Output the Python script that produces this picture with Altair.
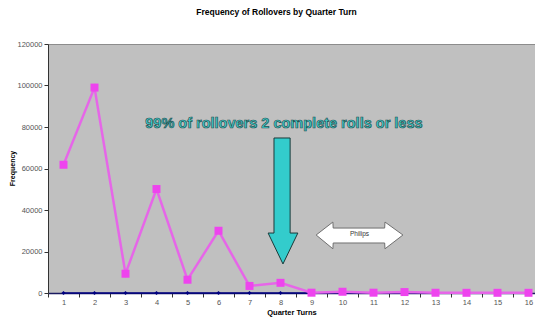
import altair as alt
import pandas as pd

# ---- data ----
turns = list(range(1, 17))
rollovers = [61800, 99000, 9300, 50100, 6400, 30000, 3400, 4900, 150, 600, 150, 450, 120, 100, 100, 100]
baseline = [0] * 16

tick_pos = [i + 0.5 for i in range(16)]  # boundaries 0.5 .. 15.5
y_ticks = [0, 20000, 40000, 60000, 80000, 100000, 120000]

note_text = ["99% of rollovers 2 complete rolls or less"]
note_x = [8.11]
note_y = [81400]

# down arrow outline (horizontal area: y, x, x2)
arrow_y = [14000, 28899, 28900, 74700]
arrow_x = [8.08, 7.60, 7.79, 7.79]
arrow_x2 = [8.08, 8.56, 8.31, 8.31]

# double arrow "Philips" (vertical area: x, y, y2)
dbl_x = [9.15, 9.69, 9.70, 11.36, 11.37, 11.95]
dbl_y = [27950, 34200, 31300, 31300, 34200, 27950]
dbl_y2 = [27950, 21300, 24100, 24100, 21300, 27950]
dbl_label = ["Philips"]
dbl_lx = [10.55]
dbl_ly = [28200]

FONT = "Liberation Sans"
XDOM = [0.5, 0.5 + 487 / 31]

df = pd.DataFrame({"turn": turns, "freq": rollovers, "base": baseline})

xscale = alt.Scale(domain=XDOM, nice=False, zero=False)
yscale = alt.Scale(domain=[0, 120000], nice=False)

x_axis = alt.Axis(
    values=tick_pos, labelExpr="format(datum.value + 0.5, 'd')", labelOffset=15.5,
    labelFlush=False, labelOverlap=False, labelBound=False, labelSeparation=0,
    tickSize=4, tickColor="#333333", domainColor="#1a1a60", domainWidth=1.5,
    labelFontSize=7.5, labelColor="#555555", labelFont=FONT, labelPadding=1,
    title="Quarter Turns", titleFontSize=7.5, titleFont=FONT, titleFontWeight="bold",
    titleColor="#000000", titlePadding=3, grid=False,
)
y_axis = alt.Axis(
    values=y_ticks, format="d", tickSize=4, tickColor="#333333",
    domainColor="#333333", labelFontSize=7.5, labelColor="#555555", labelFont=FONT,
    labelPadding=2, title="Frequency", titleFontSize=7, titleFont=FONT,
    titleFontWeight="bold", titleColor="#000000", titleX=-36, titleY=124,
    titleAngle=-90, titleAlign="center", titleBaseline="middle", grid=False,
)

X = alt.X("turn:Q", scale=xscale, axis=x_axis)

base_line = alt.Chart(df).mark_line(color="#000080", strokeWidth=1.5).encode(
    x=X, y=alt.Y("base:Q", scale=yscale, axis=y_axis),
)
base_pts = alt.Chart(df).mark_point(shape="diamond", filled=True, color="#000080", size=18, opacity=1).encode(
    x=X, y=alt.Y("base:Q", scale=yscale, axis=y_axis)
)
pink_line = alt.Chart(df).mark_line(color="#E666E8", strokeWidth=2.5).encode(
    x=X, y=alt.Y("freq:Q", scale=yscale, axis=y_axis)
)
pink_pts = alt.Chart(df).mark_point(shape="square", filled=True, color="#EE44EE", size=64, opacity=1).encode(
    x=X, y=alt.Y("freq:Q", scale=yscale, axis=y_axis)
)

arrow = alt.Chart(pd.DataFrame({"y": arrow_y, "x": arrow_x, "x2": arrow_x2})).mark_area(
    orient="horizontal", color="#33CCCC", fill="#33CCCC", stroke="#1a3a3a", strokeWidth=1, opacity=1
).encode(
    y=alt.Y("y:Q", scale=yscale, axis=y_axis), x=alt.X("x:Q", scale=xscale, axis=x_axis), x2="x2:Q"
)

dbl = alt.Chart(pd.DataFrame({"x": dbl_x, "y": dbl_y, "y2": dbl_y2})).mark_area(
    orient="vertical", fill="#FFFFFF", stroke="#707070", strokeWidth=1, opacity=1
).encode(
    x=alt.X("x:Q", scale=xscale, axis=x_axis), y=alt.Y("y:Q", scale=yscale, axis=y_axis), y2="y2:Q"
)

dbl_text = alt.Chart(pd.DataFrame({"x": dbl_lx, "y": dbl_ly, "t": dbl_label})).mark_text(
    fontSize=6.5, font=FONT, color="#333333"
).encode(x=alt.X("x:Q", scale=xscale, axis=x_axis), y=alt.Y("y:Q", scale=yscale, axis=y_axis), text="t:N")

note = alt.Chart(pd.DataFrame({"x": note_x, "y": note_y, "t": note_text})).mark_text(
    fontSize=14.5, font=FONT, fontWeight="bold", fill="#3CCFCF", stroke="#275050", strokeWidth=0.7
).encode(x=alt.X("x:Q", scale=xscale, axis=x_axis), y=alt.Y("y:Q", scale=yscale, axis=y_axis), text="t:N")

chart = alt.layer(
    base_line, base_pts, pink_line, pink_pts, arrow, dbl, dbl_text, note
).properties(
    width=487, height=249,
    title=alt.TitleParams(
        "Frequency of Rollovers by Quarter Turn", fontSize=8.5, font=FONT,
        fontWeight="bold", color="#000000", anchor="middle", dx=-15, offset=24,
    ),
    autosize=alt.AutoSizeParams(type="none"),
    padding={"left": 40, "top": 36, "right": 0, "bottom": 24},
    background="#FFFFFF",
).configure_view(
    fill="#C0C0C0", stroke="#8C8C8C", strokeWidth=1
).configure_axis(
    labelOverlap=False
)

chart.save("out.html", embed_options={"renderer": "svg", "actions": False})
